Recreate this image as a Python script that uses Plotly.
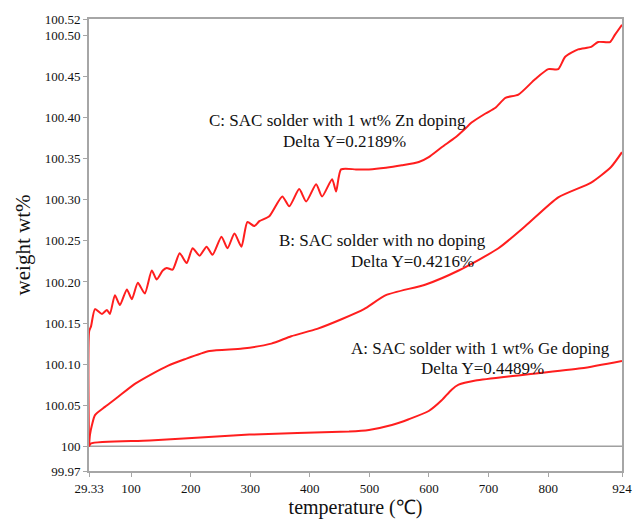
import plotly.graph_objects as go

# TGA weight curves (temperature in °C, weight in wt%)
temp_a = [29.33, 32.7, 131.3, 298.6, 465.8, 499.2, 537.7, 566.1, 599.6, 621.3,
          638.0, 649.7, 678.2, 745.2, 855.6, 924.0]
weight_a = [100.000, 100.0036, 100.0072, 100.0143, 100.018, 100.020, 100.026, 100.033,
            100.043, 100.056, 100.069, 100.075, 100.080, 100.086, 100.095, 100.104]

temp_b = [29.33, 31.0, 34.3, 39.4, 56.1, 77.8, 106.3, 134.7, 161.4, 189.9, 231.7,
          286.9, 335.4, 368.8, 412.3, 454.1, 490.9, 527.7, 594.6, 649.8, 716.6,
          761.8, 817.0, 872.2, 905.6, 924.0]
weight_b = [100.000, 100.0143, 100.026, 100.038, 100.048, 100.060, 100.076, 100.088,
            100.098, 100.106, 100.116, 100.119, 100.125, 100.134, 100.143, 100.155,
            100.167, 100.184, 100.197, 100.214, 100.241, 100.268, 100.303, 100.321,
            100.340, 100.358]

temp_c = [29.33, 29.6, 32.7, 39.4, 51.1, 59.4, 64.4, 72.8, 81.2, 92.9, 101.2, 111.3,
          123.0, 134.7, 143.0, 153.1, 159.8, 169.8, 181.5, 193.2, 203.3, 215.0,
          226.7, 236.7, 251.7, 261.8, 273.5, 285.2, 295.2, 306.9, 315.3, 332.0,
          353.8, 365.5, 382.2, 393.9, 410.6, 420.6, 437.4, 444.1, 452.4, 477.5,
          499.2, 527.7, 554.4, 582.9, 599.6, 621.3, 644.7, 661.5, 671.5, 694.9,
          711.6, 728.3, 750.1, 778.5, 800.3, 817.0, 828.7, 850.4, 872.2, 883.9,
          904.0, 912.3, 924.0]
weight_c = [100.000, 100.140, 100.146, 100.167, 100.161, 100.166, 100.161, 100.184,
            100.172, 100.191, 100.179, 100.199, 100.186, 100.214, 100.203, 100.214,
            100.217, 100.215, 100.235, 100.223, 100.241, 100.232, 100.243, 100.233,
            100.255, 100.241, 100.259, 100.243, 100.273, 100.268, 100.274, 100.280,
            100.304, 100.292, 100.313, 100.298, 100.319, 100.304, 100.325, 100.310,
            100.337, 100.337, 100.337, 100.339, 100.342, 100.346, 100.352, 100.364,
            100.376, 100.387, 100.394, 100.405, 100.412, 100.424, 100.428, 100.447,
            100.459, 100.459, 100.474, 100.483, 100.486, 100.492, 100.492, 100.501,
            100.513]

x_ticks = [29.33, 100, 200, 300, 400, 500, 600, 700, 800, 924]
x_tick_text = ["29.33", "100", "200", "300", "400", "500", "600", "700", "800", "924"]
y_ticks = [99.97, 100, 100.05, 100.10, 100.15, 100.20, 100.25, 100.30, 100.35,
           100.40, 100.45, 100.50, 100.52]
y_tick_text = ["99.97", "100", "100.05", "100.10", "100.15", "100.20", "100.25",
               "100.30", "100.35", "100.40", "100.45", "100.50", "100.52"]

line_color = "rgb(255,30,30)"
serif = "Liberation Serif"

fig = go.Figure()
for tx, wy in [(temp_a, weight_a), (temp_b, weight_b), (temp_c, weight_c)]:
    fig.add_trace(go.Scatter(x=tx, y=wy, mode="lines",
                             line=dict(color=line_color, width=2, shape="spline",
                                       smoothing=0.6),
                             showlegend=False))

# baseline at 100 wt%
fig.add_shape(type="line", xref="x", yref="y", x0=29.33, x1=924, y0=100, y1=100,
              line=dict(color="#a0a0a0", width=1.5), layer="below")

labels = [
    (226.7, 100.396, "C: SAC solder with 1 wt% Zn doping"),
    (352.1, 100.371, "Delta Y=0.2189%"),
    (345.0, 100.251, "B: SAC solder with no doping"),
    (465.0, 100.225, "Delta Y=0.4216%"),
    (465.8, 100.119, "A: SAC solder with 1 wt% Ge doping"),
    (582.9, 100.095, "Delta Y=0.4489%"),
]
for lx, ly, txt in labels:
    fig.add_annotation(x=lx, y=ly, text=txt, showarrow=False, xanchor="left",
                       yanchor="middle", font=dict(family=serif, size=17, color="#111"))

axis_common = dict(showline=True, mirror=True, linecolor="#a6a6a6", linewidth=2,
                   showgrid=False, zeroline=False, ticks="outside", ticklen=4,
                   tickcolor="#a6a6a6", tickfont=dict(family=serif, size=13, color="#111"))

fig.update_xaxes(range=[29.33, 924], tickmode="array", tickvals=x_ticks,
                 ticktext=x_tick_text,
                 title=dict(text="temperature (℃)", font=dict(family=serif, size=20, color="#111"),
                            standoff=4),
                 **axis_common)
fig.update_yaxes(range=[99.97, 100.52], tickmode="array", tickvals=y_ticks,
                 ticktext=y_tick_text,
                 title=dict(text="weight wt%", font=dict(family=serif, size=21, color="#111"),
                            standoff=8),
                 **axis_common)

fig.update_layout(width=644, height=526, margin=dict(l=89, r=20, t=17, b=53),
                  plot_bgcolor="white", paper_bgcolor="white")

fig.write_html("out.html")
